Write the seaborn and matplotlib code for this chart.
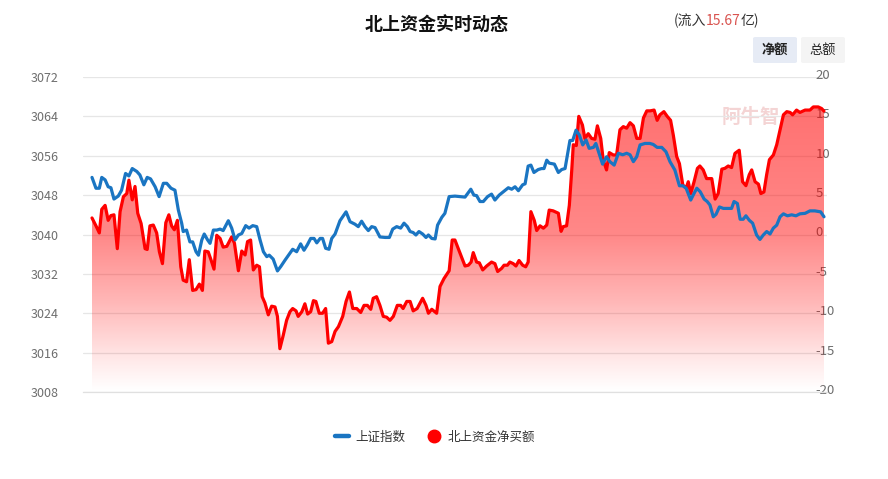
import numpy as np
import pandas as pd
import matplotlib
matplotlib.use("Agg")
import matplotlib.pyplot as plt
import matplotlib.transforms as mtransforms
from matplotlib.lines import Line2D
from matplotlib.patches import FancyBboxPatch
import seaborn as sns

# ---------------- data ----------------
time_labels = ["09:30", "10:00", "10:30", "11:00", "13:00", "13:30", "14:00", "14:30", "15:00"]
tick_minutes = [0, 30, 60, 90, 120, 150, 180, 210, 240]
left_ticks = [3008, 3016, 3024, 3032, 3040, 3048, 3056, 3064, 3072]
right_ticks = [-20, -15, -10, -5, 0, 5, 10, 15, 20]

index_minutes = [0.0, 1.3, 2.4, 3.2, 4.3, 5.3, 6.2, 7.2, 8.6, 9.7, 11.0, 12.1, 13.2, 14.7, 15.7, 17.0, 18.1,
                 19.2, 20.7, 22.0, 23.4, 24.5, 25.9, 27.2, 28.3, 29.4, 29.9, 31.0, 32.1, 33.0, 34.1, 34.9,
                 36.0, 36.8, 37.9, 38.7, 39.8, 40.9, 42.0, 43.0, 44.7, 45.8, 46.9, 48.0, 49.1, 50.4, 51.5,
                 52.7, 54.0, 55.1, 56.2, 57.3, 58.1, 59.4, 60.8, 61.9, 63.3, 64.9, 65.8, 67.1, 68.4, 69.5,
                 70.6, 71.7, 72.8, 73.7, 74.8, 75.6, 76.6, 77.7, 78.6, 79.7, 81.3, 83.3, 84.6, 86.2, 87.3,
                 88.4, 89.5, 90.6, 91.7, 92.8, 94.4, 96.1, 97.5, 98.6, 99.9, 101.2, 102.3, 103.4, 104.3,
                 105.3, 106.2, 107.2, 108.4, 109.5, 110.3, 111.4, 112.5, 113.3, 114.7, 115.7, 117.1, 119.0,
                 120.7, 122.3, 124.2, 125.2, 126.1, 127.2, 128.3, 129.7, 131.0, 132.1, 133.5, 134.9, 136.5,
                 137.6, 138.7, 139.8, 141.2, 142.0, 143.0, 143.9, 144.9, 146.3, 147.4, 148.2, 149.1, 149.9,
                 151.6, 152.9, 154.0, 155.1, 156.7, 157.6, 158.7, 159.8, 160.9, 162.0, 163.0, 164.4, 165.2,
                 166.3, 167.4, 168.7, 169.8, 171.2, 172.6, 174.0, 175.3, 176.4, 177.5, 178.6, 179.7, 181.3,
                 182.9, 184.0, 185.3, 186.8, 188.2, 189.5, 191.1, 192.6, 193.7, 194.8, 196.3, 197.1, 198.3,
                 199.4, 200.7, 201.7, 202.6, 203.7, 204.6, 205.7, 207.0, 208.6, 209.7, 210.5, 211.6, 212.5,
                 213.5, 214.4, 215.5, 216.6, 217.9, 219.0, 220.1, 221.2, 222.3, 223.4, 224.5, 225.6, 226.7,
                 228.0, 229.4, 230.8, 232.1, 233.8, 235.4, 237.0, 238.9, 240.0]
index_values = [3051.6, 3049.4, 3049.4, 3051.6, 3051.1, 3049.7, 3049.5, 3047.2, 3047.8, 3049.0, 3052.4, 3051.9,
                3053.4, 3052.8, 3052.1, 3050.1, 3051.6, 3051.3, 3049.7, 3047.7, 3050.4, 3050.4, 3049.4, 3049.0,
                3045.0, 3042.3, 3040.6, 3040.9, 3038.5, 3038.5, 3036.5, 3035.8, 3038.9, 3040.1, 3038.9, 3038.2,
                3040.9, 3040.9, 3041.1, 3040.8, 3042.8, 3041.3, 3038.9, 3039.9, 3040.2, 3041.8, 3041.3, 3041.8,
                3041.6, 3038.9, 3036.5, 3035.5, 3035.8, 3035.0, 3032.6, 3033.5, 3034.8, 3036.2, 3037.0, 3036.5,
                3038.1, 3036.8, 3037.9, 3039.2, 3039.2, 3038.3, 3039.2, 3039.2, 3037.2, 3037.0, 3039.2, 3040.1,
                3042.8, 3044.6, 3042.6, 3042.1, 3041.6, 3042.7, 3041.6, 3040.8, 3041.6, 3041.4, 3039.5, 3039.4,
                3039.4, 3041.1, 3041.6, 3041.3, 3042.3, 3041.6, 3040.6, 3040.4, 3039.9, 3040.6, 3040.1, 3039.4,
                3039.9, 3039.2, 3039.1, 3041.9, 3043.5, 3044.3, 3047.7, 3047.8, 3047.7, 3047.6, 3049.2, 3048.0,
                3047.9, 3046.7, 3046.7, 3047.7, 3048.2, 3047.0, 3048.0, 3048.7, 3049.5, 3049.2, 3049.7, 3048.9,
                3050.1, 3050.3, 3053.9, 3054.1, 3052.6, 3053.2, 3053.4, 3053.4, 3055.1, 3054.5, 3054.3, 3052.6,
                3053.2, 3053.4, 3059.1, 3059.1, 3061.2, 3060.2, 3058.2, 3059.2, 3057.5, 3057.7, 3058.5, 3056.4,
                3054.3, 3055.8, 3054.8, 3054.1, 3056.5, 3056.2, 3056.5, 3056.2, 3054.8, 3055.8, 3058.2, 3058.5,
                3058.5, 3058.3, 3057.7, 3057.7, 3056.8, 3054.8, 3053.1, 3049.9, 3049.9, 3049.4, 3047.0, 3048.0,
                3049.4, 3048.7, 3047.2, 3046.7, 3046.0, 3043.6, 3044.1, 3045.6, 3045.3, 3045.3, 3045.3, 3046.7,
                3046.3, 3043.1, 3043.1, 3043.8, 3042.9, 3042.3, 3039.9, 3039.0, 3039.9, 3040.6, 3040.1, 3041.3,
                3041.9, 3043.6, 3044.2, 3043.8, 3044.0, 3043.8, 3044.2, 3044.3, 3044.8, 3044.8, 3044.6, 3043.6]

flow_minutes = [0.0, 1.3, 2.4, 3.2, 4.3, 5.3, 6.2, 7.2, 8.3, 9.2, 10.3, 11.4, 12.1, 13.2, 14.1, 15.0, 16.1, 17.4,
                18.1, 19.0, 20.1, 21.2, 22.1, 23.1, 24.2, 25.2, 26.1, 27.0, 28.0, 29.1, 29.9, 31.0, 31.9, 33.0,
                34.1, 35.2, 36.2, 37.0, 38.1, 39.0, 40.0, 40.9, 42.0, 43.0, 44.2, 45.8, 46.7, 48.0, 49.1, 50.2,
                51.0, 52.0, 52.9, 54.0, 54.9, 55.8, 56.7, 57.8, 58.9, 60.0, 60.8, 61.6, 62.7, 63.8, 64.9, 65.8,
                66.9, 67.6, 68.8, 69.8, 70.7, 71.7, 72.6, 73.4, 74.5, 75.6, 76.6, 77.5, 78.6, 79.7, 80.8, 82.2,
                83.3, 84.4, 85.5, 86.8, 88.1, 89.2, 90.3, 91.4, 92.2, 93.3, 94.4, 95.5, 96.6, 97.7, 98.8, 100.1,
                101.2, 102.0, 103.2, 104.3, 105.3, 106.6, 108.4, 109.5, 110.3, 111.4, 113.0, 114.1, 115.4,
                117.1, 118.1, 119.0, 120.7, 122.3, 123.4, 124.3, 125.0, 126.1, 127.0, 128.1, 129.4, 131.0,
                132.1, 133.0, 134.3, 135.1, 136.2, 137.0, 138.1, 139.0, 140.0, 141.2, 142.2, 143.0, 143.9,
                145.0, 145.8, 146.9, 148.0, 149.1, 149.9, 151.2, 152.9, 153.8, 154.5, 155.6, 156.5, 157.3,
                157.8, 158.8, 159.6, 160.8, 161.6, 162.7, 163.8, 164.9, 165.7, 166.8, 167.6, 168.7, 169.6,
                170.9, 172.0, 173.1, 174.2, 175.3, 176.4, 177.5, 178.6, 179.7, 180.8, 181.9, 183.0, 184.3,
                185.3, 186.2, 187.5, 188.6, 189.7, 190.6, 191.7, 192.6, 193.7, 194.8, 195.5, 196.3, 197.4,
                198.5, 199.3, 200.4, 201.5, 203.2, 204.3, 205.3, 206.5, 207.5, 208.6, 209.7, 210.8, 212.2,
                213.3, 214.4, 215.5, 216.3, 217.4, 218.5, 219.3, 220.3, 221.2, 222.1, 223.4, 224.5, 225.6,
                226.7, 227.8, 228.9, 229.7, 231.0, 232.1, 233.8, 235.4, 236.5, 238.1, 239.2, 240.0]
flow_values = [2.1, 1.1, 0.2, 3.2, 3.7, 1.8, 2.4, 2.5, -1.8, 2.9, 4.8, 5.2, 6.9, 4.4, 6.1, 2.7, 1.4, -1.8, -1.9,
               1.1, 1.2, 0.2, -2.2, -3.7, 1.5, 2.5, 1.1, 0.6, 1.8, -4.1, -5.8, -6.0, -3.2, -7.1, -7.0, -6.3, -7.1,
               -2.1, -2.2, -3.2, -4.4, -0.1, -0.5, -1.6, -1.5, -0.3, -1.1, -4.6, -2.1, -2.6, -0.9, -0.7, -4.5,
               -3.9, -4.1, -7.9, -8.7, -10.2, -9.1, -9.2, -10.4, -14.5, -12.8, -10.9, -9.8, -9.4, -9.7, -10.4,
               -9.8, -8.8, -10.1, -9.8, -8.4, -8.5, -10.0, -10.0, -9.4, -13.8, -13.6, -12.3, -11.7, -10.4, -8.5,
               -7.3, -9.4, -9.4, -9.9, -9.0, -9.0, -9.5, -8.1, -7.9, -9.0, -10.4, -10.5, -10.9, -10.4, -9.0,
               -9.0, -9.4, -8.5, -8.5, -9.7, -9.4, -8.1, -9.0, -10.0, -9.5, -10.0, -6.6, -5.6, -4.6, -0.7, -0.7,
               -2.4, -4.0, -3.9, -3.5, -2.3, -3.5, -3.6, -4.5, -4.0, -3.5, -3.7, -4.7, -4.3, -3.9, -3.9, -3.5,
               -3.7, -4.0, -3.3, -3.9, -4.1, -3.5, 2.9, 1.8, 0.5, 1.1, 0.8, 1.2, 3.1, 3.0, 2.7, 0.4, 1.0, 1.1,
               3.7, 8.2, 11.4, 11.3, 15.0, 13.9, 12.2, 12.8, 12.2, 12.1, 13.8, 12.2, 9.5, 8.2, 10.4, 10.1, 10.1,
               13.3, 13.7, 13.5, 14.2, 13.8, 12.2, 12.2, 14.8, 15.7, 15.7, 15.8, 14.5, 15.2, 15.6, 15.0, 14.5,
               12.6, 9.9, 9.0, 6.3, 5.9, 6.7, 5.2, 6.7, 8.4, 8.7, 8.2, 7.1, 7.1, 4.5, 5.2, 8.3, 8.4, 8.7, 8.5,
               10.3, 10.7, 6.7, 6.2, 7.6, 8.2, 6.7, 6.4, 5.2, 5.4, 7.6, 9.5, 10.1, 11.4, 13.3, 15.2, 15.6, 15.5,
               15.2, 15.8, 15.5, 15.8, 15.8, 16.2, 16.2, 16.0, 15.67]

net_inflow_text = "15.67"

index_df = pd.DataFrame({"minute": index_minutes, "value": index_values})
flow_df = pd.DataFrame({"minute": flow_minutes, "value": flow_values})

# ---------------- style ----------------
sns.set_theme(style="white")
plt.rcParams["font.family"] = ["Noto Sans CJK SC", "DejaVu Sans"]

BLUE = "#1a75c2"
RED = "#ff0000"
GRID = "#e6e6e6"
LABEL = "#6e6e6e"

W, H = 888, 479
fig = plt.figure(figsize=(W / 100, H / 100), dpi=100)
fig.patch.set_facecolor("white")

# axes spanning grid 83px..827px horizontally, 77px..392px vertically
ax2 = fig.add_axes([83 / W, 1 - 392 / H, (827 - 83) / W, (392 - 77) / H])  # net inflow (right)
ax = ax2.twinx()  # index (left) drawn above
ax.yaxis.tick_left()
ax.yaxis.set_label_position("left")
ax2.yaxis.tick_right()
ax2.yaxis.set_label_position("right")

px_per_min = (824 - 92) / 240.0
xlim = (-(92 - 83) / px_per_min, 240 + (827 - 824) / px_per_min)

# --- net inflow (red) with gradient area ---
ax2.set_xlim(*xlim)
ax2.set_ylim(-20, 20)
ax2.set_axisbelow(True)
poly = ax2.fill_between(flow_df["minute"], flow_df["value"], -20, color="none", lw=0)
frac = np.linspace(0, 1, 300)
alpha = np.interp(frac, [0, 0.45, 0.68, 0.9, 1.0], [0.56, 0.47, 0.29, 0.08, 0.0])
img = np.zeros((300, 1, 4))
img[..., 0] = 1.0
img[..., 3] = alpha[:, None]
top = max(flow_values)
im = ax2.imshow(img, aspect="auto", extent=[0, 240, -20, top], origin="upper", zorder=1,
                interpolation="bilinear")
im.set_clip_path(poly.get_paths()[0], transform=ax2.transData)

# watermark
ax2.text(216, 14.8, "阿牛智", color="#f4d4d4", fontsize=14, fontweight="bold", ha="center",
         va="center", zorder=0.5)

sns.lineplot(data=flow_df, x="minute", y="value", ax=ax2, color=RED, lw=2.3, sort=False,
             estimator=None, zorder=3)
ax2.set_xlim(*xlim)
ax2.set_ylim(-20, 20)

# --- index (blue) ---
sns.lineplot(data=index_df, x="minute", y="value", ax=ax, color=BLUE, lw=2.3, sort=False,
             estimator=None, zorder=4)
ax.set_xlim(*xlim)
ax.set_ylim(3008, 3072)
ax.patch.set_visible(False)

# grid & ticks (grid lives under the fill)
ax.set_yticks(left_ticks)
ax.set_yticklabels([str(v) for v in left_ticks])
ax.grid(False)
ax2.set_yticks(right_ticks)
ax2.set_yticklabels([str(v) for v in right_ticks])
ax2.grid(axis="y", color=GRID, lw=0.9, zorder=0)
ax2.grid(axis="x", visible=False)

ax2.set_xticks(tick_minutes)
ax2.set_xticklabels(time_labels)
ax.set_xticks(tick_minutes)
ax.set_xticklabels(time_labels)

for a in (ax, ax2):
    for s in a.spines.values():
        s.set_visible(False)
    a.set_xlabel("")
    a.set_ylabel("")

ax.spines["bottom"].set_visible(True)
ax.spines["bottom"].set_color("#e0e0e0")
ax.spines["bottom"].set_linewidth(0.9)

ax.tick_params(axis="y", left=False, right=False, labelleft=True, labelright=False, pad=11.5,
               labelsize=9, labelcolor=LABEL)
ax.tick_params(axis="x", bottom=False, labelbottom=True, pad=8, labelsize=9, labelcolor=LABEL)
ax2.tick_params(axis="x", bottom=False, labelbottom=False)
ax2.tick_params(axis="y", left=False, right=False, labelleft=False, labelright=True, pad=-14.4,
                labelsize=9.5, labelcolor=LABEL)
offset = mtransforms.ScaledTranslation(0, 3 / 100, fig.dpi_scale_trans)
for lab in ax2.get_yticklabels():
    lab.set_horizontalalignment("left")
    lab.set_transform(lab.get_transform() + offset)
    lab.set_zorder(6)

# ---------------- header texts ----------------
fig.text(437 / W, 1 - 25 / H, "北上资金实时动态", ha="center", va="center", fontsize=13,
         fontweight="bold", color="#111111")
fig.text(706 / W, 1 - 21 / H, "(流入", ha="right", va="center", fontsize=10, color="#333333")
fig.text(706 / W, 1 - 21 / H, net_inflow_text, ha="left", va="center", fontsize=10, color="#d9534f")
fig.text(741 / W, 1 - 21 / H, "亿)", ha="left", va="center", fontsize=10, color="#333333")

# toggle buttons
for (x0, x1, label, bg, weight) in [(753, 797, "净额", "#e6ebf5", "bold"), (801, 845, "总额", "#f4f4f4", "normal")]:
    btn = FancyBboxPatch((x0 / W, 1 - 63 / H), (x1 - x0) / W, 26 / H,
                         boxstyle="round,pad=0,rounding_size=0.003", transform=fig.transFigure,
                         facecolor=bg, edgecolor="none")
    fig.patches.append(btn)
    fig.text((x0 + x1) / 2 / W, 1 - 50 / H, label, ha="center", va="center", fontsize=9.5,
             fontweight=weight, color="#222222")

# ---------------- legend ----------------
handles = [Line2D([0], [0], color=BLUE, lw=3.2),
           Line2D([0], [0], color=RED, lw=0, marker="o", markersize=9)]
leg = fig.legend(handles, ["上证指数", "北上资金净买额"], loc="center", ncol=2,
                 bbox_to_anchor=(435 / W, 1 - 437 / H), frameon=False, fontsize=9,
                 handlelength=1.1, handletextpad=0.5, columnspacing=1.8)
for t in leg.get_texts():
    t.set_color("#333333")

fig.savefig("out.png", dpi=100, facecolor="white")
